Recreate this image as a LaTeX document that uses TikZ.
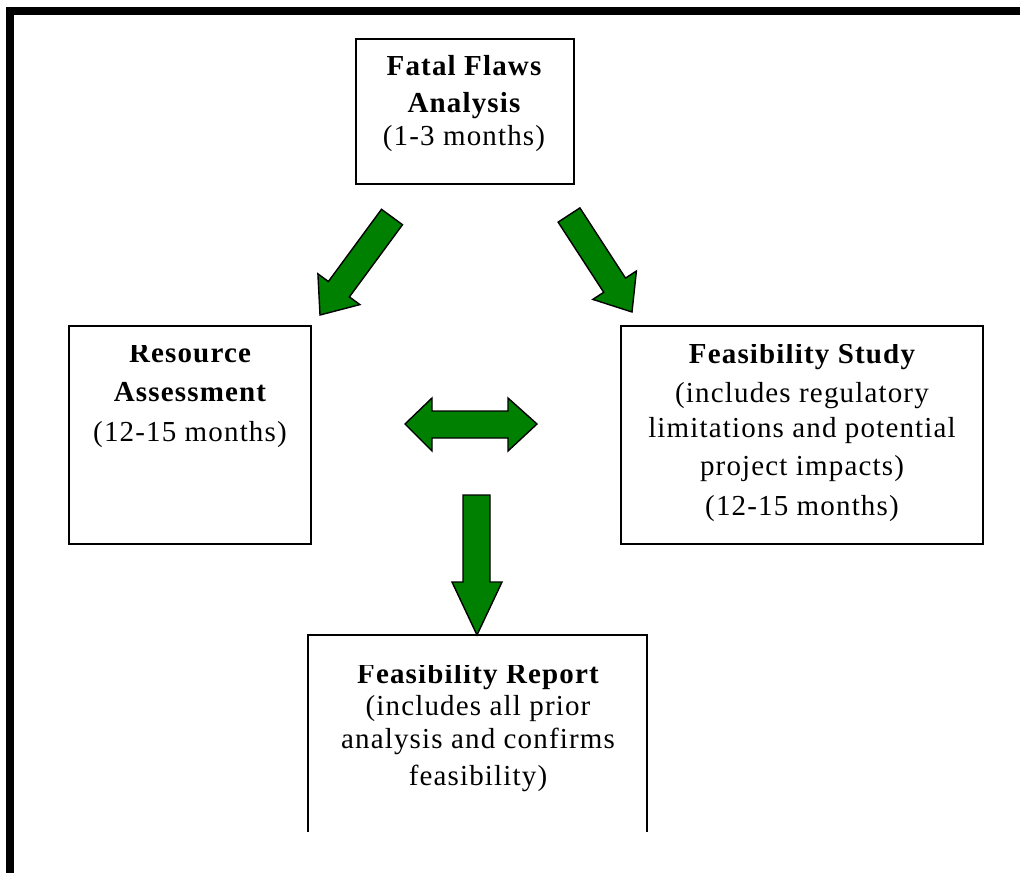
\documentclass[tikz,border=0pt]{standalone}
\usepackage{fontspec}
\setmainfont[LetterSpace=4]{Liberation Serif}
\usetikzlibrary{shadows}
\definecolor{arrowgreen}{RGB}{0,128,0}
\begin{document}
\begin{tikzpicture}[x=1pt,y=-1pt,
  box/.style={draw=black, line width=1.5pt, fill=white, inner sep=0pt, anchor=north west,
    drop shadow={shadow xshift=1.3pt, shadow yshift=-1.3pt, fill=black, opacity=1}},
  openbox/.style={draw=black, line width=1.6pt},
  blk/.style={fill=arrowgreen, draw=black, line width=1.4pt, line join=miter},
  txt/.style={anchor=base, inner sep=0pt, font=\fontsize{29}{35}\selectfont},
  ttl/.style={anchor=base, inner sep=0pt, font=\fontsize{29}{35}\selectfont\bfseries},
  frame/.style={fill=black}]
\useasboundingbox (0,0) rectangle (1020,873);
% frame
\fill[frame] (6,7) rectangle (1020,15);
\fill[frame] (6,7) rectangle (14,873);

% boxes
\node[box, minimum width=218pt, minimum height=145pt] (ff) at (355,38) {};
\node[box, minimum width=242pt, minimum height=218pt] (ra) at (68,325) {};
\node[box, minimum width=362pt, minimum height=218pt] (fs) at (620,325) {};
\coordinate (frBL) at (308,832);
\coordinate (frTL) at (308,635);
\coordinate (frTR) at (647,635);
\coordinate (frBR) at (647,832);
\draw[openbox] (frBL) -- (frTL) -- (frTR) -- (frBR);

% texts: Fatal Flaws
\node[ttl] (ff1) at (464,75) {Fatal Flaws};
\node[ttl] (ff2) at (464,112) {Analysis};
\node[txt] (ff3) at (464,145) {(1-3 months)};

% Resource Assessment
\begin{scope}
\clip (70,345) rectangle (308,540);
\node[ttl] (ra1) at (190,362) {Resource};
\end{scope}
\node[ttl] (ra2) at (190,401) {Assessment};
\node[txt] (ra3) at (190,441) {(12-15 months)};

% Feasibility Study
\begin{scope}
\clip (622,344) rectangle (980,540);
\node[ttl] (fs1) at (802,363) {Feasibility Study};
\end{scope}
\node[txt] (fs2) at (802,402) {(includes regulatory};
\node[txt] (fs3) at (802,437) {limitations and potential};
\node[txt] (fs4) at (802,475) {project impacts)};
\node[txt] (fs5) at (802,515) {(12-15 months)};

% Feasibility Report
\begin{scope}
\clip (310,665) rectangle (645,830);
\node[ttl] (fr1) at (478,683) {Feasibility Report};
\end{scope}
\node[txt] (fr2) at (478,715) {(includes all prior};
\node[txt] (fr3) at (478,748) {analysis and confirms};
\node[txt] (fr4) at (478,785) {feasibility)};

% block arrows
\draw[blk] (402.5,224.7) -- (349.4,296.9) -- (359.9,304.6) -- (320,315)
  -- (317.9,273.8) -- (328.4,281.5) -- (381.5,209.3) -- cycle;
\draw[blk] (579.9,207.9) -- (625.5,278.1) -- (636.4,271.0) -- (632,312)
  -- (592.8,299.4) -- (603.7,292.3) -- (558.1,222.1) -- cycle;
\draw[blk] (405,424) -- (432,398) -- (432,411) -- (508,411) -- (508,398)
  -- (537,424) -- (508,451) -- (508,438) -- (432,438) -- (432,451) -- cycle;
\draw[blk] (463,495) -- (490,495) -- (490,582) -- (502,582) -- (477,635)
  -- (452,582) -- (463,582) -- cycle;
\end{tikzpicture}
\end{document}
